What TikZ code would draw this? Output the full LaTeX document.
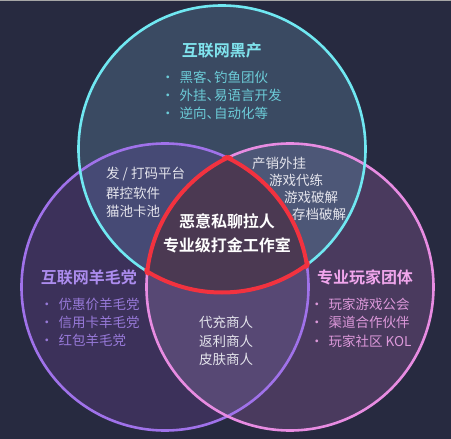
\documentclass[tikz,border=0pt]{standalone}
\usepackage{fontspec}
\setmainfont{Noto Sans CJK SC}
\newfontfamily\cjkb{Noto Sans CJK SC Bold}
\newcommand{\hd}{\makebox[0.55em][l]{、}}
\definecolor{bg}{HTML}{272A40}
\definecolor{topfill}{HTML}{3A4A62}
\definecolor{blfill}{HTML}{3C315A}
\definecolor{brfill}{HTML}{4A3A5E}
\definecolor{tlfill}{HTML}{464A75}
\definecolor{trfill}{HTML}{4D5777}
\definecolor{botfill}{HTML}{574874}
\definecolor{midfill}{HTML}{4B3952}
\definecolor{cyanline}{HTML}{70E8F2}
\definecolor{purpline}{HTML}{A072EA}
\definecolor{pinkline}{HTML}{E88CE2}
\definecolor{redline}{HTML}{F2323F}
\definecolor{toptitle}{HTML}{80E4EE}
\definecolor{toptext}{HTML}{6CCCD8}
\definecolor{lefttitle}{HTML}{AC8CEE}
\definecolor{lefttext}{HTML}{9779D8}
\definecolor{righttitle}{HTML}{F0A6EC}
\definecolor{righttext}{HTML}{DC98DA}
\definecolor{lenstext}{HTML}{E4E4EC}
\tikzset{
  title/.style={inner sep=0pt, font=\cjkb\fontsize{16}{16}\selectfont},
  item/.style={inner sep=0pt, anchor=west, font=\fontsize{13.5}{14}\selectfont},
  lens/.style={inner sep=0pt, anchor=west, text=lenstext, font=\fontsize{13.5}{14}\selectfont},
  core/.style={inner sep=0pt, text=white, font=\cjkb\fontsize{16}{16}\selectfont},
}
\begin{document}
\begin{tikzpicture}[x=1pt,y=-1pt]
\useasboundingbox (0,0) rectangle (451,439);
\fill[bg] (0,0) rectangle (451,439);
\draw[color=gray!70, line width=1pt] (0,0.5) -- (451,0.5);
\coordinate (T) at (222,149);
\coordinate (L) at (165,287);
\coordinate (R) at (290,287);
\def\rr{143.5pt}
% fills
\fill[topfill] (T) circle[radius=\rr];
\fill[blfill] (L) circle[radius=\rr];
\fill[brfill] (R) circle[radius=\rr];
\begin{scope}\clip (T) circle[radius=\rr]; \fill[tlfill] (L) circle[radius=\rr];\end{scope}
\begin{scope}\clip (T) circle[radius=\rr]; \fill[trfill] (R) circle[radius=\rr];\end{scope}
\begin{scope}\clip (L) circle[radius=\rr]; \fill[botfill] (R) circle[radius=\rr];\end{scope}
\begin{scope}\clip (L) circle[radius=\rr]; \clip (R) circle[radius=\rr]; \fill[midfill] (T) circle[radius=\rr];\end{scope}
% outlines
\draw[purpline, line width=2.6pt] (L) circle[radius=\rr];
\draw[pinkline, line width=2.6pt] (R) circle[radius=\rr];
\draw[cyanline, line width=2.6pt] (T) circle[radius=\rr];
% core outline
\begin{scope}\clip (L) circle[radius=\rr+3pt]; \clip (R) circle[radius=\rr+3pt];
  \draw[redline, line width=4pt] (T) circle[radius=\rr];\end{scope}
\begin{scope}\clip (T) circle[radius=\rr+3pt]; \clip (R) circle[radius=\rr+3pt];
  \draw[redline, line width=4pt] (L) circle[radius=\rr];\end{scope}
\begin{scope}\clip (T) circle[radius=\rr+3pt]; \clip (L) circle[radius=\rr+3pt];
  \draw[redline, line width=4pt] (R) circle[radius=\rr];\end{scope}
% top circle text
\node[title, text=toptitle] (tt) at (222,50) {互联网黑产};
\node[item, text=toptext] (t1) at (161,77) {·\hspace{5pt}黑客\hd 钓鱼团伙};
\node[item, text=toptext] (t2) at (161,95) {·\hspace{5pt}外挂\hd 易语言开发};
\node[item, text=toptext] (t3) at (161,113) {·\hspace{5pt}逆向\hd 自动化等};
% left circle text
\node[title, text=lefttitle] (lt) at (89,277) {互联网羊毛党};
\node[item, text=lefttext] (l1) at (40,304) {·\hspace{5pt}优惠价羊毛党};
\node[item, text=lefttext] (l2) at (40,322) {·\hspace{5pt}信用卡羊毛党};
\node[item, text=lefttext] (l3) at (40,340) {·\hspace{5pt}红包羊毛党};
% right circle text
\node[title, text=righttitle] (rt) at (365,277) {专业玩家团体};
\node[item, text=righttext] (r1) at (310,304) {·\hspace{5pt}玩家游戏公会};
\node[item, text=righttext] (r2) at (310,322) {·\hspace{5pt}渠道合作伙伴};
\node[item, text=righttext] (r3) at (310,341) {·\hspace{5pt}玩家社区 KOL};
% lenses
\node[lens] (a1) at (106,174) {发 / 打码平台};
\node[lens] (a2) at (106,193) {群控软件};
\node[lens] (a3) at (106,211) {猫池卡池};
\node[lens] (b1) at (252,163) {产销外挂};
\node[lens] (b2) at (269,180) {游戏代练};
\node[lens] (b3) at (284,197) {游戏破解};
\node[lens] (b4) at (292,214) {存档破解};
\node[lens] (c1) at (199,322) {代充商人};
\node[lens] (c2) at (199,341) {返利商人};
\node[lens] (c3) at (199,359) {皮肤商人};
% core
\node[core] (m1) at (227,221) {恶意私聊拉人};
\node[core] (m2) at (227,245) {专业级打金工作室};
\end{tikzpicture}
\end{document}
